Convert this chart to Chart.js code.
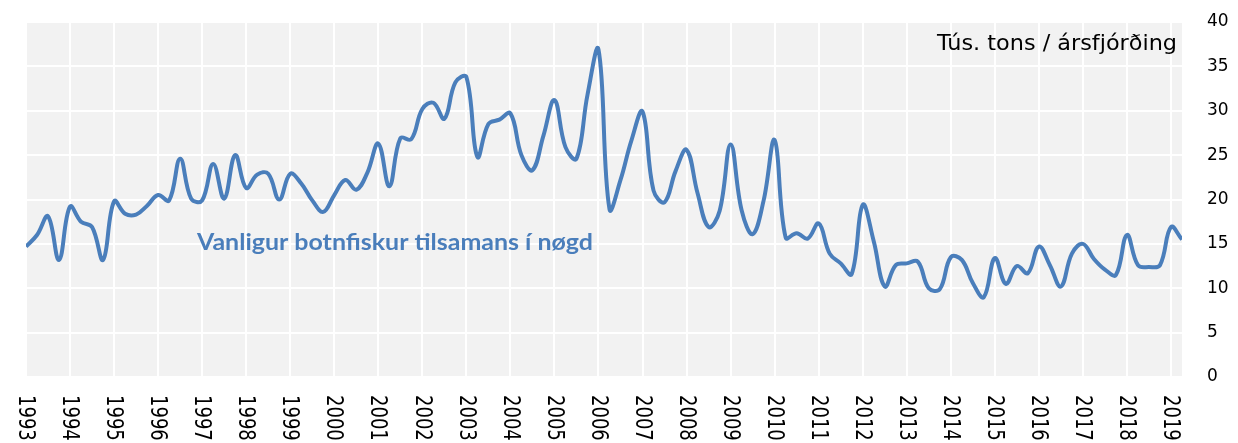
<!DOCTYPE html>
<html>
<head>
<meta charset="utf-8">
<script src="https://cdn.jsdelivr.net/npm/chart.js@4.4.1/dist/chart.umd.min.js"></script>
<style>
  html, body { margin: 0; padding: 0; background: #fff; }
  #wrap { width: 1238px; height: 443px; position: relative; }
</style>
</head>
<body>
<div id="wrap"><canvas id="chart1"></canvas></div>
<script>
// year tick labels on the x axis
const yearTicks = [1993, 1994, 1995, 1996, 1997, 1998, 1999, 2000, 2001, 2002, 2003, 2004, 2005,
  2006, 2007, 2008, 2009, 2010, 2011, 2012, 2013, 2014, 2015, 2016, 2017, 2018, 2019];
// y axis ticks (right side)
const yTicks = [0, 5, 10, 15, 20, 25, 30, 35, 40];
// quarterly landings, tus. tons, 1993 Q1 .. 2019 Q2
const quarterly = [
  14.7, 16.0, 18.1, 13.2,
  19.2, 17.5, 16.9, 13.2,
  19.8, 18.4, 18.3, 19.3,
  20.5, 19.9, 24.6, 20.1,
  19.9, 24.0, 20.1, 25.0,
  21.3, 22.8, 22.9, 20.0,
  22.9, 21.8, 19.9, 18.6,
  20.5, 22.2, 21.1, 23.0,
  26.3, 21.5, 26.9, 26.8,
  30.2, 30.9, 29.1, 33.2,
  33.8, 24.8, 28.5, 29.0,
  29.7, 25.0, 23.3, 27.2,
  31.2, 25.9, 24.6, 31.8,
  36.9, 18.9, 22.2, 26.7,
  29.9, 21.0, 19.7, 23.2,
  25.6, 20.7, 16.9, 18.7,
  26.2, 18.8, 16.1, 19.9,
  26.7, 15.7, 16.2, 15.6,
  17.3, 13.9, 12.8, 11.6,
  19.4, 15.3, 10.2, 12.6,
  12.8, 13.0, 10.0, 9.9,
  13.5, 13.2, 10.6, 9.0,
  13.4, 10.5, 12.5, 11.7,
  14.7, 12.6, 10.2, 13.9,
  15.0, 13.3, 12.1, 11.5,
  16.0, 12.6, 12.4, 12.6,
  16.9, 15.5
];
const seriesLabel = "Vanligur botnfiskur tilsamans í nøgd";
const unitLabel = "Tús. tons / ársfjórðing";

const lineBlue = "#4a7ebb";
const startYear = yearTicks[0];
const points = quarterly.map((v, i) => ({ x: startYear + i / 4, y: v }));

// grey plot background + white page
const bgPlugin = {
  id: "bg",
  beforeDraw(chart) {
    const { ctx, chartArea } = chart;
    ctx.save();
    ctx.fillStyle = "#fff";
    ctx.fillRect(0, 0, chart.width, chart.height);
    ctx.fillStyle = "#f2f2f2";
    ctx.fillRect(chartArea.left, chartArea.top, chartArea.right - chartArea.left, chartArea.bottom - chartArea.top);
    ctx.restore();
  },
};

// axis labels (years rotated, reading top to bottom) and the two texts
const textPlugin = {
  id: "texts",
  afterDraw(chart) {
    const { ctx, chartArea } = chart;
    const xs = chart.scales.x;
    const ys = chart.scales.y;
    ctx.save();
    ctx.fillStyle = "#000";
    ctx.font = "18px 'DejaVu Sans'";
    ctx.textAlign = "left";
    ctx.textBaseline = "middle";
    yearTicks.forEach((yr) => {
      const px = xs.getPixelForValue(yr);
      ctx.save();
      ctx.translate(px - 1, chartArea.bottom + 18);
      ctx.scale(1.25, 1);
      ctx.rotate(Math.PI / 2);
      ctx.fillText(String(yr), 0, 0);
      ctx.restore();
    });

    // y tick labels on the right
    ctx.font = "17px 'DejaVu Sans'";
    yTicks.forEach((v) => {
      ctx.fillText(String(v), chartArea.right + 25, ys.getPixelForValue(v));
    });

    // unit text, top right of plot
    ctx.font = "21px 'DejaVu Sans'";
    ctx.textBaseline = "alphabetic";
    let w = ctx.measureText(unitLabel).width;
    ctx.save();
    ctx.translate(chartArea.right - 5 - 240, chartArea.top + 28);
    ctx.scale(240 / w, 1);
    ctx.fillText(unitLabel, 0, 0);
    ctx.restore();

    // series name, inside plot
    ctx.fillStyle = lineBlue;
    ctx.font = "bold 23px Lato";
    w = ctx.measureText(seriesLabel).width;
    ctx.save();
    ctx.translate(chartArea.left + 171, chartArea.top + 228);
    ctx.scale(396 / w, 1);
    ctx.fillText(seriesLabel, 0, 0);
    ctx.restore();
    ctx.restore();
  },
};

new Chart(document.getElementById("chart1"), {
  type: "line",
  data: {
    datasets: [
      {
        label: seriesLabel,
        data: points,
        borderColor: lineBlue,
        borderWidth: 4,
        pointRadius: 0,
        tension: 0.4,
        fill: false,
      },
    ],
  },
  options: {
    responsive: true,
    maintainAspectRatio: false,
    animation: false,
    layout: { padding: { left: 26, top: 22, right: 56, bottom: 66 } },
    plugins: {
      legend: { display: false },
      tooltip: { enabled: false },
    },
    scales: {
      x: {
        type: "linear",
        min: startYear,
        max: startYear + (quarterly.length - 1) / 4,
        ticks: { display: false, stepSize: 1, includeBounds: false },
        grid: { color: "#fff", lineWidth: 2, drawTicks: false },
        border: { display: false },
      },
      y: {
        position: "right",
        min: yTicks[0],
        max: yTicks[yTicks.length - 1],
        afterBuildTicks: (axis) => {
          axis.ticks = yTicks.map((v) => ({ value: v }));
        },
        ticks: { display: false },
        grid: { color: "#fff", lineWidth: 2, drawTicks: false },
        border: { display: false },
      },
    },
  },
  plugins: [bgPlugin, textPlugin],
});
</script>
</body>
</html>
